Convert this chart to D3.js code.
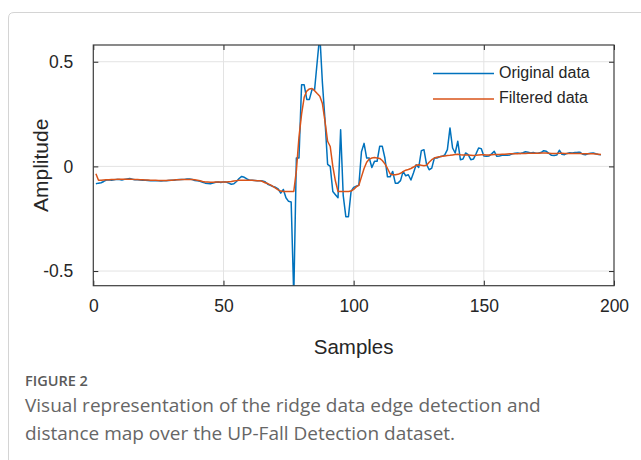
<!DOCTYPE html>
<html><head><meta charset="utf-8">
<script src="https://cdn.jsdelivr.net/npm/d3@7"></script>
<style>
body{margin:0;background:#fff;}
svg{display:block;}
</style></head><body>
<svg id="chart" width="641" height="460"></svg>
<script>
// Axis ticks
const xTicks = [0, 50, 100, 150, 200];
const yTicks = [-0.5, 0, 0.5];
const yTickLabels = ["-0.5", "0", "0.5"];

// Raw accelerometer amplitude, samples 1..195
const originalData = [
  -0.083,-0.080,-0.078,-0.072,-0.065,-0.064,-0.066,-0.064,-0.062,-0.063,
  -0.065,-0.062,-0.060,-0.058,-0.061,-0.064,-0.064,-0.065,-0.066,-0.066,
  -0.067,-0.068,-0.068,-0.069,-0.069,-0.070,-0.069,-0.068,-0.067,-0.066,
  -0.066,-0.064,-0.063,-0.063,-0.062,-0.060,-0.060,-0.063,-0.067,-0.069,
  -0.071,-0.076,-0.080,-0.082,-0.083,-0.080,-0.076,-0.075,-0.077,-0.074,
  -0.075,-0.080,-0.085,-0.083,-0.072,-0.058,-0.048,-0.052,-0.060,-0.066,
  -0.066,-0.067,-0.068,-0.068,-0.070,-0.073,-0.085,-0.090,-0.096,-0.100,
  -0.108,-0.128,-0.110,-0.150,-0.167,-0.170,-0.620,0.040,0.040,0.390,
  0.390,0.320,0.320,0.367,0.367,0.500,0.630,0.400,0.220,0.010,
  0.000,-0.120,-0.135,-0.150,0.175,-0.140,-0.240,-0.240,-0.120,-0.100,
  -0.095,-0.090,0.070,0.110,0.040,0.040,-0.005,0.024,0.024,0.096,
  0.096,0.040,-0.050,-0.050,-0.024,-0.080,-0.080,-0.068,-0.024,-0.045,
  -0.040,-0.065,-0.030,0.008,-0.005,0.075,0.080,0.010,-0.016,-0.008,
  0.040,0.040,0.046,0.048,0.055,0.080,0.184,0.088,0.064,0.120,
  0.032,0.035,0.064,0.056,0.032,0.035,0.060,0.088,0.085,0.050,
  0.048,0.050,0.060,0.072,0.048,0.050,0.053,0.055,0.053,0.055,
  0.060,0.063,0.064,0.062,0.065,0.070,0.068,0.064,0.066,0.063,
  0.064,0.066,0.075,0.072,0.062,0.053,0.052,0.054,0.077,0.058,
  0.056,0.062,0.065,0.064,0.066,0.067,0.067,0.058,0.056,0.060,
  0.063,0.064,0.060,0.057,0.056
];

// Smoothed signal, samples 1..195
const filteredData = [
  -0.035,-0.066,-0.066,-0.065,-0.064,-0.064,-0.063,-0.063,-0.062,-0.062,
  -0.062,-0.062,-0.062,-0.062,-0.062,-0.063,-0.063,-0.064,-0.064,-0.065,
  -0.065,-0.066,-0.066,-0.066,-0.067,-0.067,-0.067,-0.067,-0.066,-0.066,
  -0.065,-0.064,-0.064,-0.063,-0.063,-0.063,-0.063,-0.063,-0.064,-0.066,
  -0.069,-0.072,-0.074,-0.075,-0.076,-0.076,-0.075,-0.074,-0.074,-0.074,
  -0.074,-0.073,-0.072,-0.070,-0.068,-0.066,-0.066,-0.066,-0.066,-0.066,
  -0.066,-0.067,-0.068,-0.068,-0.072,-0.078,-0.082,-0.088,-0.096,-0.104,
  -0.112,-0.118,-0.120,-0.120,-0.120,-0.120,-0.120,-0.020,0.140,0.250,
  0.330,0.360,0.370,0.372,0.362,0.348,0.335,0.300,0.215,0.120,
  0.095,0.000,-0.070,-0.120,-0.120,-0.120,-0.120,-0.120,-0.118,-0.110,
  -0.098,-0.090,-0.050,-0.010,0.020,0.035,0.040,0.042,0.040,0.038,
  0.028,0.012,-0.010,-0.035,-0.040,-0.040,-0.038,-0.033,-0.025,-0.018,
  -0.015,-0.010,-0.003,0.005,0.008,0.005,0.003,0.005,0.020,0.032,
  0.040,0.044,0.046,0.048,0.050,0.052,0.053,0.055,0.057,0.058,
  0.056,0.055,0.054,0.054,0.053,0.052,0.053,0.055,0.056,0.056,
  0.055,0.055,0.056,0.057,0.057,0.057,0.058,0.058,0.059,0.060,
  0.060,0.061,0.061,0.062,0.062,0.062,0.063,0.063,0.063,0.063,
  0.063,0.064,0.064,0.064,0.063,0.062,0.062,0.062,0.063,0.063,
  0.062,0.062,0.062,0.062,0.062,0.062,0.062,0.061,0.061,0.061,
  0.060,0.060,0.059,0.058,0.057
];

const seriesNames = ["Original data", "Filtered data"];
const seriesColors = ["#0072BD", "#D95319"];

const svg = d3.select("#chart");
const W = 641, H = 460;
const plot = {left: 93.3, right: 614, top: 45, bottom: 285.7};
const pw = plot.right - plot.left, ph = plot.bottom - plot.top;

// card border
svg.append("path")
  .attr("d", `M${W+5},12.5 H14 Q8.5,12.5 8.5,18 V${H+5}`)
  .attr("fill", "none").attr("stroke", "#d4d4d4").attr("stroke-width", 1);

const x = d3.scaleLinear().domain([0, 200]).range([plot.left, plot.right]);
const y = d3.scaleLinear().domain([-0.57, 0.58]).range([plot.bottom, plot.top]);

const axFont = "'Liberation Sans', Arial, Helvetica, sans-serif";
const g = svg.append("g");

// grid
g.append("g").selectAll("line").data(xTicks.slice(1, -1)).join("line")
  .attr("x1", d => x(d)).attr("x2", d => x(d))
  .attr("y1", plot.top).attr("y2", plot.bottom)
  .attr("stroke", "#e3e3e3").attr("stroke-width", 1);
g.append("g").selectAll("line").data(yTicks).join("line")
  .attr("x1", plot.left).attr("x2", plot.right)
  .attr("y1", d => y(d)).attr("y2", d => y(d))
  .attr("stroke", "#e3e3e3").attr("stroke-width", 1);

// series
svg.append("defs").append("clipPath").attr("id", "plotClip")
  .append("rect").attr("x", plot.left).attr("y", plot.top).attr("width", pw).attr("height", ph);

const line = d3.line().x((d, i) => x(i + 1)).y(d => y(d));
const dataSets = [originalData, filteredData];
g.append("g").attr("clip-path", "url(#plotClip)")
  .selectAll("path").data(dataSets).join("path")
  .attr("d", d => line(d))
  .attr("fill", "none")
  .attr("stroke", (d, i) => seriesColors[i])
  .attr("stroke-width", 1.5)
  .attr("stroke-linejoin", "round");

// axes (ticks pointing inward, all four sides)
const axisColor = "#262626";
const bottomAxis = d3.axisBottom(x).tickValues(xTicks).tickSize(-5).tickPadding(14).tickFormat(d3.format("d"));
const leftAxis = d3.axisLeft(y).tickValues(yTicks).tickSize(-5).tickPadding(20).tickFormat((d, i) => yTickLabels[i]);
const topAxis = d3.axisTop(x).tickValues(xTicks).tickSize(-5).tickFormat("");
const rightAxis = d3.axisRight(y).tickValues(yTicks).tickSize(-5).tickFormat("");

function styleAxis(sel) {
  sel.select(".domain").remove();
  sel.selectAll("line").attr("stroke", axisColor).attr("stroke-width", 1);
  sel.selectAll("text").attr("fill", "#262626").attr("font-family", axFont).attr("font-size", 17.5);
}
g.append("g").attr("transform", `translate(0,${plot.bottom})`).call(bottomAxis).call(styleAxis);
g.append("g").attr("transform", `translate(${plot.left},0)`).call(leftAxis).call(styleAxis);
g.append("g").attr("transform", `translate(0,${plot.top})`).call(topAxis).call(styleAxis);
g.append("g").attr("transform", `translate(${plot.right},0)`).call(rightAxis).call(styleAxis);

g.append("rect").attr("x", plot.left).attr("y", plot.top).attr("width", pw).attr("height", ph)
  .attr("fill", "none").attr("stroke", "#3c3c3c").attr("stroke-width", 1.2);

// axis titles
g.append("text").attr("x", (plot.left + plot.right) / 2).attr("y", 349)
  .attr("text-anchor", "middle").attr("dominant-baseline", "middle")
  .attr("font-family", axFont).attr("font-size", 20.5).attr("fill", "#262626").text("Samples");
g.append("text").attr("transform", `translate(42,${(plot.top + plot.bottom) / 2}) rotate(-90)`)
  .attr("text-anchor", "middle").attr("dominant-baseline", "middle")
  .attr("font-family", axFont).attr("font-size", 21).attr("fill", "#262626").text("Amplitude");

// legend
const lg = g.append("g").attr("transform", "translate(433,73.5)");
seriesNames.forEach((name, i) => {
  const row = lg.append("g").attr("transform", `translate(0,${i * 25.5})`);
  row.append("line").attr("x1", 0).attr("x2", 61).attr("y1", 0).attr("y2", 0)
    .attr("stroke", seriesColors[i]).attr("stroke-width", 1.5);
  row.append("text").attr("x", 66).attr("y", 0).attr("dominant-baseline", "middle")
    .attr("font-family", axFont).attr("font-size", 16).attr("fill", "#262626").text(name);
});

// caption
const capFont = "'Open Sans', 'Noto Sans', sans-serif";
svg.append("text").attr("x", 25).attr("y", 386)
  .attr("font-family", capFont).attr("font-size", 14.5).attr("font-weight", 600)
  .attr("fill", "#5a5a5a").text("FIGURE 2");
const capLines = ["Visual representation of the ridge data edge detection and",
                  "distance map over the UP-Fall Detection dataset."];
svg.append("g").selectAll("text").data(capLines).join("text")
  .attr("x", 25).attr("y", (d, i) => 412 + i * 27.5)
  .attr("font-family", capFont).attr("font-size", 19)
  .attr("fill", "#666").text(d => d);
</script>
</body></html>
